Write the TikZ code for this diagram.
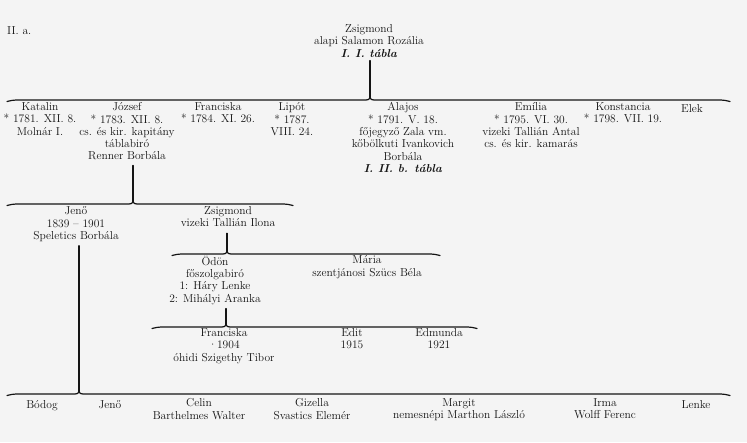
\documentclass[tikz,border=0pt]{standalone}
\usetikzlibrary{calc}
\definecolor{bg}{HTML}{F4F4F4}
\definecolor{ink}{HTML}{141414}
\tikzset{
  lbl/.style={anchor=north, yshift=8.5pt, align=center, inner sep=0pt, text=ink,
    font=\fontsize{11.5}{12.3}\selectfont,
    execute at begin node={\rule{0pt}{10pt}}},
  ln/.style={draw=ink, line width=1.2pt, line cap=round},
  drop/.style={ln, shorten <=#1},
}
\newcommand{\famline}[3]{%
  \draw[ln] ([yshift=-1.5pt]#1) to[out=12,in=180] ([xshift=9pt]#1)
    -- ([xshift=-4pt]#2) to[out=0,in=-90] ([yshift=2.5pt]#2)
    to[out=-90,in=180] ([xshift=4pt]#2)
    -- ([xshift=-9pt]#3) to[out=0,in=168] ([yshift=-1.5pt]#3);}
\begin{document}
\begin{tikzpicture}[x=1pt,y=-1pt]
\fill[bg] (0,0) rectangle (747,442);
\useasboundingbox (0,0) rectangle (747,442);

% title and root
\node[lbl, anchor=north west] (title) at (7,33) {II. a.};
\node[lbl] (root) at (369,33) {Zsigmond\\alapi Salamon Rozália\\\textbf{\textit{I. I. tábla}}};

% bar 1
\coordinate (b1l) at (7,100);
\coordinate (b1) at (370,100);
\coordinate (b1r) at (730,100);
\famline{b1l}{b1}{b1r}
\draw[drop=3pt] (root.south -| b1) -- ([yshift=2.5pt]b1);

% generation 1
\node[lbl] (katalin) at (40,111) {Katalin\\* 1781. XII. 8.\\Molnár I.};
\node[lbl] (jozsef) at (127,111) {József\\* 1783. XII. 8.\\cs. és kir. kapitány\\táblabiró\\Renner Borbála};
\node[lbl] (franciska) at (218,111) {Franciska\\* 1784. XI. 26.};
\node[lbl] (lipot) at (292,111) {Lipót\\* 1787.\\VIII. 24.};
\node[lbl] (alajos) at (403,111) {Alajos\\* 1791. V. 18.\\főjegyző Zala vm.\\kőbölkuti Ivankovich\\Borbála\\\textbf{\textit{I. II. b. tábla}}};
\node[lbl] (emilia) at (531,111) {Emília\\* 1795. VI. 30.\\vizeki Tallián Antal\\cs. és kir. kamarás};
\node[lbl] (konstancia) at (623,111) {Konstancia\\* 1798. VII. 19.};
\node[lbl] (elek) at (692,111) {Elek};

% bar 2 (József's children)
\coordinate (b2l) at (7,204);
\coordinate (b2) at (133,204);
\coordinate (b2r) at (293,204);
\famline{b2l}{b2}{b2r}
\draw[drop=5pt] (jozsef.south -| b2) -- ([yshift=2.5pt]b2);

\node[lbl] (jeno) at (76,215) {Jenő\\1839 -- 1901\\Speletics Borbála};
\node[lbl] (zsigmond) at (228,215) {Zsigmond\\vizeki Tallián Ilona};

% bar 3 (Zsigmond's children)
\coordinate (b3l) at (172,254);
\coordinate (b3) at (227,254);
\coordinate (b3r) at (440,254);
\famline{b3l}{b3}{b3r}
\draw[drop=6pt] (zsigmond.south -| b3) -- ([yshift=2.5pt]b3);

\node[lbl] (odon) at (215,264) {Ödön\\főszolgabiró\\1: Háry Lenke\\2: Mihályi Aranka};
\node[lbl] (maria) at (367,264) {Mária\\szentjánosi Szücs Béla};

% bar 4 (Ödön's children)
\coordinate (b4l) at (152,327);
\coordinate (b4) at (226,327);
\coordinate (b4r) at (477,327);
\famline{b4l}{b4}{b4r}
\draw[drop=4pt] (odon.south -| b4) -- ([yshift=2.5pt]b4);

\node[lbl] (franciska2) at (224,337) {Franciska\\·1904\\óhidi Szigethy Tibor};
\node[lbl] (edit) at (352,337) {Edit\\1915};
\node[lbl] (edmunda) at (439,337) {Edmunda\\1921};

% bar 5 (Jenő's children)
\coordinate (b5l) at (7,394);
\coordinate (b5) at (79,394);
\coordinate (b5r) at (730,394);
\famline{b5l}{b5}{b5r}
\draw[drop=4pt] (jeno.south -| b5) -- ([yshift=2.5pt]b5);

\node[lbl] (bodog) at (42,407) {Bódog};
\node[lbl] (jeno2) at (110,407) {Jenő};
\node[lbl] (celin) at (199,407) {Celin\\Barthelmes Walter};
\node[lbl] (gizella) at (312,407) {Gizella\\Svastics Elemér};
\node[lbl] (margit) at (459,407) {Margit\\nemesnépi Marthon László};
\node[lbl] (irma) at (605,407) {Irma\\Wolff Ferenc};
\node[lbl] (lenke) at (696,407) {Lenke};
\end{tikzpicture}
\end{document}
